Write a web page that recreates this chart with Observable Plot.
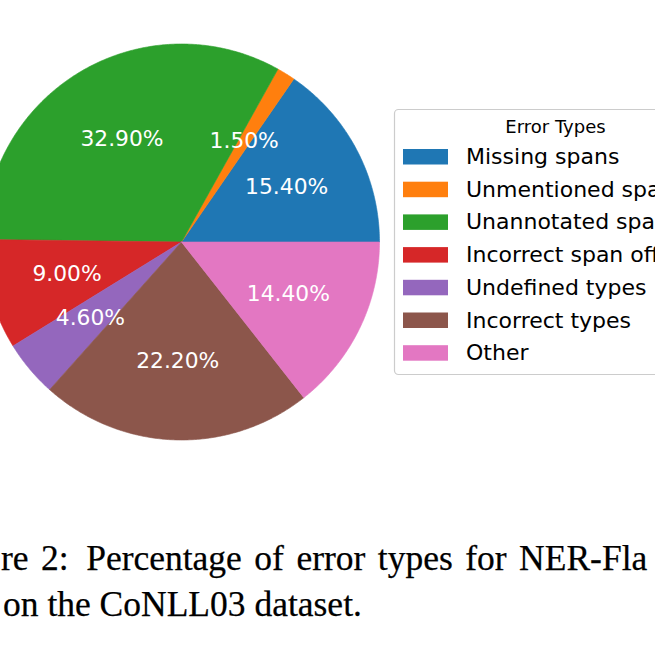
<!DOCTYPE html>
<html>
<head>
<meta charset="utf-8">
<script src="https://cdn.jsdelivr.net/npm/d3@7"></script>
<script src="https://cdn.jsdelivr.net/npm/@observablehq/plot@0.6"></script>
<style>
  html, body { margin: 0; padding: 0; background: #fff; }
  #wrap { position: relative; width: 655px; height: 655px; overflow: hidden; background: #fff; }
  #chart { position: absolute; left: 0; top: 0; }
  #legend { position: absolute; left: 0; top: 0; }
  #caption { position: absolute; left: 0; top: 0; }
</style>
</head>
<body>
<div id="wrap">
  <div id="chart"></div>
  <svg id="legend" width="655" height="655"></svg>
  <svg id="caption" width="655" height="655"></svg>
</div>
<script>
// ---- data ----
const categories = ["Missing spans", "Unmentioned spans", "Unannotated spans", "Incorrect span offsets", "Undefined types", "Incorrect types", "Other"];
const percents = [15.4, 1.5, 32.9, 9.0, 4.6, 22.2, 14.4];
const colors = ["#1f77b4", "#ff7f0e", "#2ca02c", "#d62728", "#9467bd", "#8c564b", "#e377c2"];
const legendTitle = "Error Types";
const captionLine1a = "re 2:";
const captionLine1b = "Percentage of error types for NER-Fla";
const captionLine2 = "on the CoNLL03 dataset.";

// ---- geometry (matplotlib-style: start at 0 rad, counter-clockwise) ----
const total = d3.sum(percents);
const wedgePts = [];
const labels = [];
let acc = 0;
categories.forEach((cat, i) => {
  const a0 = acc / total * 2 * Math.PI;
  acc += percents[i];
  const a1 = acc / total * 2 * Math.PI;
  const n = Math.max(2, Math.ceil((a1 - a0) / (Math.PI / 360)));
  wedgePts.push({cat, x: 0, y: 0});
  for (let k = 0; k <= n; k++) {
    const a = a0 + (a1 - a0) * k / n;
    wedgePts.push({cat, x: Math.cos(a), y: Math.sin(a)});
  }
  wedgePts.push({cat, x: 0, y: 0});
  const am = (a0 + a1) / 2;
  labels.push({cat, x: 0.6 * Math.cos(am), y: 0.6 * Math.sin(am), text: percents[i].toFixed(2) + "%"});
});

const cx = 181, cy = 241.5, r = 198;
const chart = Plot.plot({
  width: 655,
  height: 500,
  margin: 0,
  style: {background: "transparent", overflow: "visible"},
  x: {domain: [-1, 1], range: [cx - r, cx + r], axis: null},
  y: {domain: [-1, 1], range: [cy + r, cy - r], axis: null},
  color: {domain: categories, range: colors},
  marks: [
    Plot.line(wedgePts, {x: "x", y: "y", z: "cat", fill: "cat", stroke: "cat", strokeWidth: 0.6, curve: "linear"}),
    Plot.text(labels, {x: "x", y: "y", text: "text", fill: "white", fontSize: 21.8, fontFamily: "DejaVu Sans", textAnchor: "middle"})
  ]
});
document.getElementById("chart").appendChild(chart);

// ---- legend ----
const lg = d3.select("#legend");
lg.append("rect").attr("x", 394.5).attr("y", 109.5).attr("width", 330).attr("height", 265).attr("rx", 4)
  .attr("fill", "white").attr("fill-opacity", 0.8).attr("stroke", "#cccccc").attr("stroke-width", 1.2);
lg.append("text").attr("x", 555.5).attr("y", 133).attr("text-anchor", "middle")
  .attr("font-family", "DejaVu Sans").attr("font-size", 18).attr("fill", "#000").text(legendTitle);
categories.forEach((cat, i) => {
  const step = 32.7;
  lg.append("rect").attr("x", 403).attr("y", 149 + i * step).attr("width", 45).attr("height", 15.5).attr("fill", colors[i]);
  lg.append("text").attr("x", 466).attr("y", 164 + i * step).attr("font-family", "DejaVu Sans")
    .attr("font-size", 22).attr("fill", "#000").text(cat);
});

// ---- caption ----
const cap = d3.select("#caption");
const t1 = cap.append("text").attr("x", 1).attr("y", 570).attr("font-family", "Liberation Serif, serif").attr("font-size", 35.5)
  .attr("stroke", "#000").attr("stroke-width", 0.25).attr("word-spacing", 3.6);
t1.append("tspan").text(captionLine1a);
t1.append("tspan").attr("dx", 5).text(" " + captionLine1b);
cap.append("text").attr("x", 3).attr("y", 616).attr("font-family", "Liberation Serif, serif").attr("font-size", 35.5)
  .attr("stroke", "#000").attr("stroke-width", 0.25).text(captionLine2);
</script>
</body>
</html>
